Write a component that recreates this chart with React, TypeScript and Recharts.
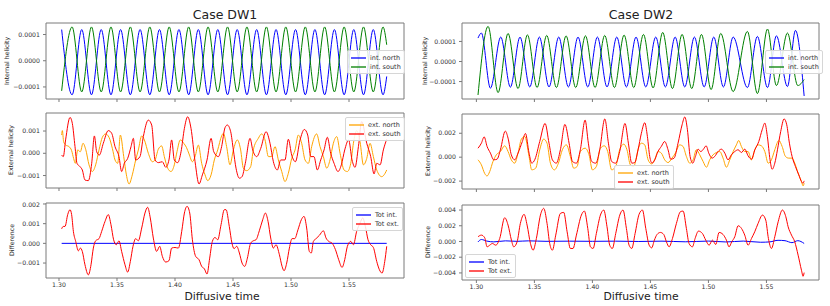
import { LineChart, Line, XAxis, YAxis, Legend, ReferenceLine } from 'recharts';

const FONT = '"DejaVu Sans", Verdana, sans-serif';

// time axis ticks (diffusive time)
const timeTicks = [1.3, 1.35, 1.4, 1.45, 1.5, 1.55];

// ---- Case DW1 : internal helicity (units of 1e-4) ----
const dw1IntNorth = [
  [1.3023, 1.19], [1.3113, -1.3], [1.3196, 1.19], [1.328, -1.3], [1.3364, 1.19], [1.3448, -1.3],
  [1.3531, 1.19], [1.3615, -1.3], [1.3699, 1.19], [1.3783, -1.3], [1.3866, 1.19], [1.395, -1.3],
  [1.4034, 1.19], [1.4118, -1.3], [1.4201, 1.19], [1.4285, -1.3], [1.4369, 1.19], [1.4453, -1.3],
  [1.4536, 1.19], [1.462, -1.3], [1.4704, 1.19], [1.4788, -1.3], [1.4871, 1.19], [1.4955, -1.3],
  [1.5039, 1.19], [1.5123, -1.3], [1.5206, 1.19], [1.529, -1.3], [1.5374, 1.19], [1.5458, -1.3],
  [1.5541, 1.19], [1.5625, -1.3], [1.5709, 1.19], [1.5793, -1.3], [1.5825, -0.6],
];
const dw1IntSouth = [
  [1.3023, -1.15], [1.3113, 1.29], [1.3196, -1.19], [1.328, 1.29], [1.3364, -1.19], [1.3448, 1.29],
  [1.3531, -1.19], [1.3615, 1.29], [1.3699, -1.19], [1.3783, 1.29], [1.3866, -1.19], [1.395, 1.29],
  [1.4034, -1.19], [1.4118, 1.29], [1.4201, -1.19], [1.4285, 1.29], [1.4369, -1.19], [1.4453, 1.29],
  [1.4536, -1.19], [1.462, 1.29], [1.4704, -1.19], [1.4788, 1.29], [1.4871, -1.19], [1.4955, 1.29],
  [1.5039, -1.19], [1.5123, 1.29], [1.5206, -1.19], [1.529, 1.29], [1.5374, -1.19], [1.5458, 1.29],
  [1.5541, -1.19], [1.5625, 1.29], [1.5709, -1.19], [1.5793, 1.29], [1.5825, 0.61],
];

// ---- Case DW1 : external helicity (units of 1e-3) ----
const dw1ExtNorth = [
  [1.3023, 0.82], [1.3029, 1.02], [1.304, 0.52], [1.3058, 0.37], [1.3086, 0.3], [1.3109, 0.12],
  [1.3126, -0.23], [1.3141, -0.45], [1.3161, 0.15], [1.3184, 0.07], [1.3207, 0.45], [1.323, 0.18],
  [1.3259, -0.52], [1.3287, -0.82], [1.3316, -0.52], [1.3345, 0.15], [1.3374, 0.72], [1.3402, 0.87],
  [1.3431, 0.72], [1.346, 0.22], [1.3483, -0.3], [1.3506, -0.45], [1.3529, 0.82], [1.3558, -0.15],
  [1.3581, -0.97], [1.3604, -1.38], [1.3632, -0.97], [1.3661, -0.3], [1.3684, 0.15], [1.3713, 0.78],
  [1.3736, 0.6], [1.377, 0.0], [1.3805, -0.38], [1.3828, -0.3], [1.3856, 0.18], [1.3885, 0.33],
  [1.3908, -0.15], [1.3937, -0.67], [1.3966, -0.82], [1.3994, -0.52], [1.4017, 0.07], [1.4046, 0.6],
  [1.4075, 0.45], [1.4098, 0.27], [1.4121, -0.03], [1.415, -0.38], [1.4173, -0.15], [1.4201, 0.37],
  [1.423, -0.45], [1.4259, -0.97], [1.4282, -1.23], [1.4311, -0.97], [1.4339, -0.3], [1.4368, 0.15],
  [1.4402, 0.78], [1.4417, 0.9], [1.4445, 0.3], [1.4474, -0.52], [1.4503, 0.15], [1.4537, 0.6],
  [1.4566, 0.15], [1.4589, -0.67], [1.4618, -0.78], [1.4652, -0.6], [1.4675, 0.15], [1.4718, 0.67],
  [1.4747, 0.87], [1.4776, 0.6], [1.4805, -0.15], [1.4833, -0.15], [1.4862, 0.3], [1.4891, -0.3],
  [1.492, -0.82], [1.4948, -1.27], [1.4977, -0.9], [1.5006, -0.23], [1.5035, 0.15], [1.5063, 0.82],
  [1.5092, 0.45], [1.5121, -0.3], [1.515, -0.45], [1.5178, 0.3], [1.5221, 0.87], [1.525, 0.3],
  [1.5279, -0.15], [1.5308, -0.67], [1.5336, -0.3], [1.5365, 0.45], [1.5394, 0.75], [1.5423, 0.0],
  [1.5457, -0.75], [1.5486, -0.82], [1.5515, -0.45], [1.5538, 0.45], [1.5566, 1.02], [1.5595, 0.52],
  [1.5624, -0.52], [1.5653, -0.23], [1.5681, 0.45], [1.571, -0.15], [1.5739, -0.75], [1.5782, -1.05],
  [1.5811, -0.9], [1.5825, -0.75],
];
const dw1ExtSouth = [
  [1.3023, -0.08], [1.3037, -0.15], [1.3057, 0.6], [1.3095, 1.61], [1.3115, 1.34], [1.3138, 0.3],
  [1.3155, -0.45], [1.3181, -0.6], [1.3201, -0.75], [1.3224, -1.2], [1.3253, -1.23], [1.3282, -0.45],
  [1.3305, 0.78], [1.3325, 0.07], [1.3348, -0.08], [1.3382, 0.45], [1.3425, 1.02], [1.3454, 0.9],
  [1.3483, 0.3], [1.3517, -0.15], [1.354, -0.82], [1.3563, -0.45], [1.3592, -0.23], [1.3621, 0.3],
  [1.3641, 0.67], [1.3661, -0.3], [1.3698, -0.15], [1.3727, 0.75], [1.377, 1.49], [1.3799, 1.27],
  [1.3828, -0.3], [1.3856, -0.42], [1.3891, -0.38], [1.392, -0.63], [1.3948, -0.3], [1.3971, 0.6],
  [1.3994, -0.3], [1.4023, -0.42], [1.4052, 0.07], [1.4081, 1.12], [1.4109, 1.64], [1.4138, 1.12],
  [1.4173, -0.38], [1.4207, -1.38], [1.4236, -0.97], [1.4276, -0.3], [1.4311, 0.67], [1.4334, 0.07],
  [1.4374, -0.15], [1.4402, 0.3], [1.4431, 1.15], [1.4451, 1.27], [1.448, 0.97], [1.4503, 0.15],
  [1.4526, -0.67], [1.4555, -1.12], [1.4578, -1.05], [1.4606, -0.45], [1.4647, 0.67], [1.467, 0.15],
  [1.4704, -0.15], [1.4739, 0.22], [1.4785, 0.97], [1.4819, 0.45], [1.4848, -0.38], [1.4882, -0.75],
  [1.4911, -0.3], [1.4948, -0.3], [1.4977, 0.63], [1.5006, -0.08], [1.5038, -0.38], [1.5078, 0.6],
  [1.5115, 1.07], [1.5144, 0.82], [1.517, -0.15], [1.5198, -0.15], [1.5227, -0.75], [1.5256, -0.3],
  [1.5285, 0.15], [1.5313, 0.72], [1.5342, 0.0], [1.5371, -0.45], [1.5405, -0.82], [1.5434, -0.52],
  [1.5463, 0.15], [1.5497, 0.6], [1.5526, -0.3], [1.5552, -0.63], [1.5581, 0.3], [1.5609, 1.42],
  [1.5653, 0.45], [1.5687, -0.15], [1.5716, -0.93], [1.5739, -0.45], [1.5768, -0.52], [1.5796, 0.15],
  [1.5825, 0.63],
];

// ---- Case DW1 : difference (units of 1e-3) ----
const dw1TotInt = [[1.3023, 0], [1.35, 0], [1.4, 0], [1.45, 0], [1.5, 0], [1.55, 0], [1.5825, 0]];
const dw1TotExt = [
  [1.3023, 0.74], [1.3037, 0.86], [1.3052, 0.86], [1.3075, 1.46], [1.3095, 1.71], [1.3109, 1.46],
  [1.3124, 0.61], [1.3144, 0.1], [1.3167, -0.38], [1.3184, -0.24], [1.3201, -0.41], [1.3224, -1.09],
  [1.3253, -1.6], [1.3276, -1.09], [1.3296, -0.24], [1.3316, 0.13], [1.3345, 0.24], [1.3368, 0.61],
  [1.3397, 1.12], [1.3425, 1.46], [1.3448, 0.95], [1.3471, 0.18], [1.3494, -0.07], [1.3517, 0.13],
  [1.354, -0.41], [1.3569, -1.09], [1.3592, -1.46], [1.3615, -0.92], [1.3638, -0.15], [1.3661, 0.24],
  [1.3684, 0.13], [1.3713, 0.78], [1.3741, 1.54], [1.3764, 1.83], [1.3787, 1.29], [1.3813, 0.27],
  [1.3842, -0.41], [1.3868, -0.15], [1.3891, -0.66], [1.392, -0.95], [1.3948, -0.88], [1.3971, -0.24],
  [1.4, -0.21], [1.4029, -0.24], [1.4058, 0.61], [1.4081, 1.54], [1.4104, 1.88], [1.4127, 1.54],
  [1.415, 0.18], [1.4178, -0.66], [1.4207, -0.83], [1.423, -1.17], [1.4253, -1.29], [1.4276, -1.56],
  [1.4299, -0.75], [1.4322, 0.1], [1.4345, 0.3], [1.4368, 0.18], [1.4397, 0.95], [1.4425, 1.71],
  [1.444, 1.71], [1.4468, 0.86], [1.4491, 0.01], [1.4509, -0.27], [1.4532, -0.15], [1.4555, -0.49],
  [1.4578, -1.0], [1.4601, -1.17], [1.4624, -0.75], [1.4652, 0.01], [1.4675, 0.13], [1.4698, 0.18],
  [1.4727, 0.64], [1.4756, 1.2], [1.4779, 1.54], [1.4802, 1.12], [1.4825, 0.27], [1.4848, -0.24],
  [1.4871, -0.07], [1.49, -0.58], [1.4923, -1.17], [1.494, -1.39], [1.4963, -1.0], [1.4986, -0.24],
  [1.5009, 0.24], [1.5032, 0.24], [1.506, 0.69], [1.5089, 1.2], [1.5112, 1.37], [1.5135, 0.78],
  [1.5158, -0.41], [1.5175, -0.49], [1.5193, 0.1], [1.5216, 0.24], [1.5245, 0.41], [1.5279, 0.64],
  [1.5302, 0.27], [1.5325, 0.1], [1.5354, 0.01], [1.5383, -0.32], [1.5411, -0.83], [1.544, -1.22],
  [1.5463, -0.83], [1.5486, -0.15], [1.5515, 0.1], [1.5538, -0.07], [1.5566, 0.61], [1.5595, 1.03],
  [1.5618, 1.29], [1.5641, 0.86], [1.5664, 0.18], [1.5687, -0.07], [1.571, -0.21], [1.5739, -0.92],
  [1.5762, -1.34], [1.5785, -1.51], [1.5808, -0.92], [1.5825, -0.15],
];

// ---- Case DW2 : internal helicity (units of 1e-4) ----
const dw2IntNorth = [
  [1.3014, 1.17], [1.3043, 1.42], [1.3121, -1.33], [1.321, 1.22], [1.3293, -1.28], [1.3376, 1.22],
  [1.346, -1.27], [1.3543, 1.22], [1.3626, -1.27], [1.371, 1.22], [1.3793, -1.27], [1.3876, 1.22],
  [1.396, -1.27], [1.4043, 1.22], [1.4126, -1.27], [1.421, 1.22], [1.4293, -1.27], [1.4376, 1.22],
  [1.446, -1.27], [1.4546, 1.22], [1.4629, -1.27], [1.4713, 1.22], [1.4796, -1.27], [1.4879, 1.22],
  [1.4963, -1.27], [1.5046, 1.22], [1.5129, -1.27], [1.5213, 1.22], [1.5336, -1.3], [1.5422, 1.25],
  [1.5509, -1.3], [1.5586, 1.28], [1.5681, -1.25], [1.575, 1.55], [1.5825, -1.72],
];
const dw2IntSouth = [
  [1.3014, -1.67], [1.3101, 1.75], [1.3187, -1.55], [1.3273, 1.4], [1.3359, -1.35], [1.344, 1.33],
  [1.3523, -1.3], [1.3606, 1.3], [1.369, -1.3], [1.3773, 1.28], [1.3856, -1.3], [1.394, 1.28],
  [1.4023, -1.3], [1.4106, 1.3], [1.419, -1.3], [1.4273, 1.32], [1.4356, -1.3], [1.444, 1.35],
  [1.4523, -1.32], [1.4606, 1.45], [1.469, -1.35], [1.4773, 1.35], [1.4856, -1.35], [1.494, 1.35],
  [1.5023, -1.4], [1.5106, 1.4], [1.5213, -1.5], [1.5336, 1.5], [1.5422, -1.6], [1.5509, 1.62],
  [1.5586, -1.2], [1.5681, 1.42], [1.577, -1.2], [1.5825, -0.9],
];

// ---- Case DW2 : external helicity (units of 1e-3) ----
const dw2ExtNorth = [
  [1.3014, -0.22], [1.3043, -0.64], [1.3072, -1.37], [1.3092, -1.57], [1.3115, -1.2], [1.3143, -0.36],
  [1.3172, 0.2], [1.3207, 0.47], [1.3244, 0.95], [1.3273, 0.47], [1.3301, -0.22], [1.333, -0.5],
  [1.3359, 0.34], [1.3388, 1.51], [1.3417, 1.73], [1.3454, 0.06], [1.3477, -1.06], [1.3511, -0.92],
  [1.3546, 0.62], [1.358, 1.51], [1.3609, 1.17], [1.3638, -0.5], [1.3672, -1.06], [1.3707, -0.5],
  [1.3741, 0.62], [1.3776, 1.03], [1.381, 0.06], [1.3839, -0.92], [1.3868, -0.78], [1.3896, 0.47],
  [1.3937, 0.75], [1.3971, 0.2], [1.4, -1.06], [1.4034, -0.78], [1.4069, 0.75], [1.4103, 0.95],
  [1.4132, 0.47], [1.4166, -1.06], [1.4201, -0.78], [1.4235, 0.62], [1.427, 1.09], [1.4298, 0.62],
  [1.4327, -0.64], [1.4356, -0.78], [1.4375, -0.22], [1.4393, 0.62], [1.4422, 1.17], [1.4451, 1.03],
  [1.448, -0.22], [1.4509, -0.56], [1.4537, -0.22], [1.4565, 0.47], [1.4594, 0.34], [1.4623, -0.22],
  [1.4652, -0.45], [1.4686, -0.08], [1.4715, 0.34], [1.4752, 1.03], [1.4781, 0.9], [1.481, 0.06],
  [1.4839, -0.5], [1.4868, -0.22], [1.4896, 0.62], [1.4925, 0.2], [1.4954, -0.36], [1.4983, -0.84],
  [1.5011, -0.22], [1.504, 0.2], [1.5069, 0.39], [1.5098, 0.47], [1.5126, -0.08], [1.5155, -0.84],
  [1.5184, -0.22], [1.5213, 0.47], [1.5241, 1.03], [1.5261, 1.4], [1.5284, 0.9], [1.5313, 0.47],
  [1.5342, 0.47], [1.5371, -0.22], [1.54, 0.62], [1.5429, 1.03], [1.5457, 0.95], [1.5486, 0.47],
  [1.5515, -0.5], [1.5543, -0.22], [1.5572, 0.62], [1.5607, 1.4], [1.5635, 0.9], [1.5664, 0.06],
  [1.5692, -0.08], [1.5721, -0.08], [1.5744, -0.5], [1.5773, -1.34], [1.5802, -2.04], [1.5816, -2.4],
  [1.5825, -2.18],
];
const dw2ExtSouth = [
  [1.3014, 0.75], [1.3043, 1.17], [1.3067, 1.7], [1.3092, 0.9], [1.3121, 0.34], [1.3149, -0.22],
  [1.3178, -0.17], [1.3207, 0.62], [1.3249, 2.18], [1.3273, 1.59], [1.3301, 0.2], [1.333, -0.22],
  [1.3359, 0.34], [1.3396, 1.31], [1.3423, 1.98], [1.3454, 0.34], [1.3477, -0.5], [1.3505, -0.17],
  [1.3546, 1.31], [1.3592, 2.82], [1.3626, 1.17], [1.3655, -0.22], [1.3689, -0.5], [1.3724, 0.62],
  [1.3763, 2.74], [1.3799, 1.17], [1.3828, -0.36], [1.3862, -0.5], [1.3896, 0.62], [1.3937, 3.1],
  [1.3965, 1.17], [1.3994, -0.36], [1.4029, -0.5], [1.4063, 0.62], [1.4107, 3.2], [1.4138, 1.17],
  [1.4166, -0.36], [1.4201, -0.5], [1.4235, 0.47], [1.4281, 2.82], [1.431, 1.17], [1.4339, -0.5],
  [1.4365, -0.45], [1.4393, 0.6], [1.4422, 2.0], [1.4451, 2.88], [1.4474, 1.73], [1.4494, 0.06],
  [1.4514, -0.5], [1.4537, -0.22], [1.4565, 0.47], [1.4594, 0.9], [1.4623, 1.31], [1.4652, 0.62],
  [1.4675, -0.17], [1.4704, -0.08], [1.4738, 1.17], [1.4773, 2.71], [1.4796, 3.36], [1.4819, 2.29],
  [1.4842, 0.06], [1.4865, -0.5], [1.4888, 0.06], [1.4911, 0.67], [1.4934, 0.47], [1.4957, 0.67],
  [1.498, 0.95], [1.5003, 0.34], [1.5031, -0.08], [1.5054, 0.06], [1.5083, 0.47], [1.5112, 0.67],
  [1.5141, 0.34], [1.5169, -0.22], [1.5198, 0.2], [1.5227, 0.47], [1.5256, 0.62], [1.5284, 0.39],
  [1.5313, 0.67], [1.5342, 0.11], [1.5371, -0.17], [1.54, 0.62], [1.5434, 1.31], [1.5463, 2.29],
  [1.5486, 2.85], [1.5508, 1.73], [1.5531, -0.22], [1.5549, -1.01], [1.5572, -0.5], [1.5595, 0.62],
  [1.5623, 2.15], [1.5652, 3.2], [1.5675, 2.71], [1.5698, 1.17], [1.5721, 0.06], [1.575, -0.78],
  [1.5779, -1.48], [1.5802, -2.04], [1.5815, -2.18], [1.5825, -1.98],
];

// ---- Case DW2 : difference (units of 1e-3) ----
const dw2TotInt = [
  [1.3014, -0.05], [1.3043, 0.25], [1.309, 0.05], [1.315, -0.05], [1.325, 0.08], [1.335, 0.02],
  [1.345, 0.08], [1.36, 0.02], [1.38, 0.04], [1.4, 0.02], [1.42, 0.04], [1.44, 0.0], [1.46, 0.04],
  [1.48, -0.04], [1.5, 0.05], [1.515, -0.06], [1.53, 0.05], [1.545, -0.1], [1.553, -0.05],
  [1.56, 0.15], [1.566, 0.1], [1.572, -0.15], [1.577, 0.1], [1.5825, -0.25],
];
const dw2TotExt = [
  [1.3014, 0.6], [1.3043, 0.81], [1.3072, 0.47], [1.3092, -0.68], [1.3115, -0.47], [1.3138, -0.26],
  [1.3167, -0.47], [1.3201, 0.38], [1.3244, 3.02], [1.3273, 2.09], [1.3302, 0.17], [1.3322, -0.68],
  [1.3351, -0.04], [1.3379, 2.3], [1.3411, 3.45], [1.3437, 2.09], [1.3466, -0.26], [1.3489, -1.11],
  [1.3517, 0.38], [1.3552, 3.36], [1.358, 4.21], [1.3609, 2.3], [1.3632, -0.26], [1.3655, -1.11],
  [1.3684, 0.81], [1.3724, 3.57], [1.3753, 3.7], [1.3782, 1.23], [1.381, -0.89], [1.3833, -0.89],
  [1.3862, 0.81], [1.3905, 3.36], [1.3931, 3.87], [1.396, 1.66], [1.3983, -0.68], [1.4006, -0.89],
  [1.4034, 1.02], [1.4069, 3.36], [1.4098, 4.0], [1.4126, 1.87], [1.4149, -0.47], [1.4172, -0.89],
  [1.4201, 1.02], [1.4236, 3.36], [1.4264, 4.0], [1.4293, 1.66], [1.4316, -0.47], [1.4339, -0.89],
  [1.4368, 1.02], [1.4402, 3.45], [1.4431, 4.0], [1.446, 1.66], [1.4489, -0.47], [1.4511, -0.81],
  [1.4534, 0.17], [1.4557, 0.89], [1.4586, 1.15], [1.4615, 0.89], [1.4638, -0.04], [1.4661, -0.68],
  [1.469, 0.38], [1.4724, 2.3], [1.4759, 3.79], [1.4782, 3.87], [1.481, 1.66], [1.4833, -0.26],
  [1.4862, -0.68], [1.4885, 0.38], [1.4914, 1.32], [1.4948, 1.02], [1.4977, 0.17], [1.5006, -0.47],
  [1.5034, 0.17], [1.5063, -0.38], [1.5092, 1.15], [1.5126, 0.89], [1.5155, 0.17], [1.5178, -0.68],
  [1.5201, -0.04], [1.5227, 0.6], [1.5256, 2.0], [1.5285, 1.66], [1.5313, 0.81], [1.5342, -0.47],
  [1.5371, 0.38], [1.5399, 1.23], [1.5428, 2.3], [1.5466, 3.36], [1.5494, 2.72], [1.5517, 0.38],
  [1.5543, -0.89], [1.5572, 0.6], [1.5601, 2.51], [1.5638, 4.0], [1.5667, 3.15], [1.5687, 1.87],
  [1.5716, 0.81], [1.5744, -0.04], [1.5773, -1.74], [1.5802, -3.66], [1.5816, -4.43], [1.5825, -3.96],
];

const BLUE = '#0000ff';
const GREEN = '#008000';
const ORANGE = '#ffa500';
const RED = '#ff0000';
const SPINE = '#7a7a7a';
const YW = 40;

const minus = (s: string) => s.replace('-', '\u2212');
const fmtInt = (v: number) => minus((v * 1e-4).toFixed(4));
const fmtMil = (v: number) => minus((v * 1e-3).toFixed(3));
const toRows = (pairs: number[][]) => pairs.map(([t, v]) => ({ t, v }));

type Series = { name: string; color: string; data: number[][] };

const LegendBox = ({ items }: { items: Series[] }) => (
  <div
    style={{
      background: 'rgba(255,255,255,0.85)',
      border: '1px solid #d6d6d6',
      borderRadius: 2,
      padding: '2px 3px 1px 3px',
      fontFamily: FONT,
      fontSize: 6.5,
      color: '#333',
      whiteSpace: 'nowrap',
    }}
  >
    {items.map((s) => (
      <div key={s.name} style={{ display: 'flex', alignItems: 'center', height: 9.5 }}>
        <svg width={15} height={4} style={{ marginRight: 4, display: 'block' }}>
          <line x1={0} y1={2} x2={15} y2={2} stroke={s.color} strokeWidth={1.3} />
        </svg>
        <span>{s.name}</span>
      </div>
    ))}
  </div>
);

type PanelProps = {
  left: number;
  top: number;
  w: number;
  h: number;
  xDomain: [number, number];
  yDomain: [number, number];
  yTicks: number[];
  fmt: (v: number) => string;
  showX: boolean;
  legendAt: [number, number];
  series: Series[];
};

const Panel = (p: PanelProps) => {
  const xh = p.showX ? 14 : 6;
  const tickStyle = { fontSize: 6.2, fill: '#333', fontFamily: FONT };
  return (
    <div style={{ position: 'absolute', left: p.left - YW, top: p.top - 2 }}>
      <LineChart width={YW + p.w + 2} height={p.h + 2 + xh} margin={{ top: 2, right: 2, bottom: 0, left: 0 }}>
        <XAxis
          xAxisId="b"
          type="number"
          dataKey="t"
          domain={p.xDomain}
          allowDataOverflow
          ticks={timeTicks}
          tickFormatter={(v: number) => (p.showX ? v.toFixed(2) : '')}
          height={xh}
          tickSize={3}
          tickMargin={2}
          stroke={SPINE}
          tick={tickStyle}
        />
        <YAxis
          yAxisId="l"
          type="number"
          domain={p.yDomain}
          allowDataOverflow
          ticks={p.yTicks}
          tickFormatter={p.fmt}
          width={YW}
          tickSize={3}
          tickMargin={3}
          stroke={SPINE}
          tick={tickStyle}
        />
        {/* top and right spines */}
        <ReferenceLine xAxisId="b" yAxisId="l" y={p.yDomain[1]} stroke={SPINE} strokeWidth={1} />
        <ReferenceLine xAxisId="b" yAxisId="l" x={p.xDomain[1]} stroke={SPINE} strokeWidth={1} />
        {p.series.map((s) => (
          <Line
            key={s.name}
            xAxisId="b"
            yAxisId="l"
            data={toRows(s.data)}
            dataKey="v"
            name={s.name}
            type="monotone"
            stroke={s.color}
            strokeWidth={1}
            dot={false}
            isAnimationActive={false}
          />
        ))}
        <Legend
          layout="vertical"
          align="center"
          verticalAlign="middle"
          content={() => <LegendBox items={p.series} />}
          wrapperStyle={{ left: p.legendAt[0] - p.left + YW, top: p.legendAt[1] - p.top + 2, width: 'auto', height: 'auto' }}
        />
      </LineChart>
    </div>
  );
};

const Text = ({ x, y, size, children, rotate }: any) => (
  <div
    style={{
      position: 'absolute',
      left: x,
      top: y,
      transform: `translate(-50%, -50%)${rotate ? ' rotate(-90deg)' : ''}`,
      fontFamily: FONT,
      fontSize: size,
      color: '#222',
      whiteSpace: 'nowrap',
      lineHeight: 1,
    }}
  >
    {children}
  </div>
);

const L = { left: 46, w: 358, x: [1.2888, 1.5974] as [number, number] };
const R = { left: 462, w: 357, x: [1.2876, 1.5953] as [number, number] };

export default function App() {
  return (
    <div style={{ position: 'absolute', left: 0, top: 0, width: 830, height: 306, background: '#fff', overflow: 'hidden' }}>
      <Text x={225} y={15} size={12.5}>Case DW1</Text>
      <Text x={641} y={15} size={12.5}>Case DW2</Text>

      <Panel left={L.left} top={23} w={L.w} h={76} xDomain={L.x} yDomain={[-1.46, 1.44]} yTicks={[-1, 0, 1]} fmt={fmtInt}
        showX={false} legendAt={[347, 50]}
        series={[{ name: 'int. north', color: BLUE, data: dw1IntNorth }, { name: 'int. south', color: GREEN, data: dw1IntSouth }]} />
      <Panel left={L.left} top={113} w={L.w} h={75} xDomain={L.x} yDomain={[-1.56, 1.81]} yTicks={[-1, 0, 1]} fmt={fmtMil}
        showX={false} legendAt={[345, 117]}
        series={[{ name: 'ext. north', color: ORANGE, data: dw1ExtNorth }, { name: 'ext. south', color: RED, data: dw1ExtSouth }]} />
      <Panel left={L.left} top={203} w={L.w} h={75} xDomain={L.x} yDomain={[-1.76, 2.05]} yTicks={[-1, 0, 1, 2]} fmt={fmtMil}
        showX legendAt={[352, 207]}
        series={[{ name: 'Tot int.', color: BLUE, data: dw1TotInt }, { name: 'Tot ext.', color: RED, data: dw1TotExt }]} />

      <Panel left={R.left} top={23} w={R.w} h={76} xDomain={R.x} yDomain={[-1.87, 1.92]} yTicks={[-1, 0, 1]} fmt={fmtInt}
        showX={false} legendAt={[765, 50]}
        series={[{ name: 'int. north', color: BLUE, data: dw2IntNorth }, { name: 'int. south', color: GREEN, data: dw2IntSouth }]} />
      <Panel left={R.left} top={114} w={R.w} h={75} xDomain={R.x} yDomain={[-2.66, 3.61]} yTicks={[-2, 0, 2]} fmt={fmtMil}
        showX={false} legendAt={[614, 165]}
        series={[{ name: 'ext. north', color: ORANGE, data: dw2ExtNorth }, { name: 'ext. south', color: RED, data: dw2ExtSouth }]} />
      <Panel left={R.left} top={205} w={R.w} h={75} xDomain={R.x} yDomain={[-4.9, 4.64]} yTicks={[-4, -2, 0, 2, 4]} fmt={fmtMil}
        showX legendAt={[465, 254]}
        series={[{ name: 'Tot int.', color: BLUE, data: dw2TotInt }, { name: 'Tot ext.', color: RED, data: dw2TotExt }]} />

      <Text x={7} y={61} size={6.2} rotate>Internal helicity</Text>
      <Text x={11} y={150} size={6.2} rotate>External helicity</Text>
      <Text x={12} y={240} size={6.2} rotate>Difference</Text>
      <Text x={425} y={61} size={6.2} rotate>Internal helicity</Text>
      <Text x={428} y={151} size={6.2} rotate>External helicity</Text>
      <Text x={428} y={242} size={6.2} rotate>Difference</Text>

      <Text x={222} y={297} size={10.8}>Diffusive time</Text>
      <Text x={641} y={297} size={10.8}>Diffusive time</Text>
    </div>
  );
}
